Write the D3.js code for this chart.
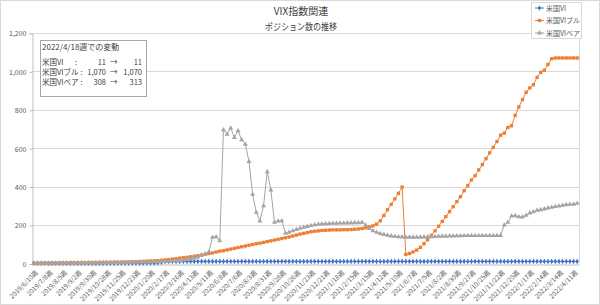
<!DOCTYPE html>
<html>
<head>
<meta charset="utf-8">
<script src="https://cdn.jsdelivr.net/npm/d3@7"></script>
<style>
  body { margin: 0; background: #fff; }
  svg text { font-family: "Noto Sans CJK JP", "Noto Sans", sans-serif; }
</style>
</head>
<body>
<div id="chart"></div>
<script>
// VIX指数関連 - ポジション数の推移

// tick labels on the category axis (every 4th week)
const tickLabels = [
  "2019/6/10週", "2019/7/8週", "2019/8/5週", "2019/9/2週", "2019/9/30週", "2019/10/28週",
  "2019/11/25週", "2019/12/23週", "2020/1/20週", "2020/2/17週", "2020/3/16週", "2020/4/13週",
  "2020/5/11週", "2020/6/8週", "2020/7/6週", "2020/8/3週", "2020/8/31週", "2020/9/28週",
  "2020/10/26週", "2020/11/23週", "2020/12/21週", "2021/1/18週", "2021/2/15週", "2021/3/15週",
  "2021/4/12週", "2021/5/10週", "2021/6/7週", "2021/7/5週", "2021/8/2週", "2021/8/30週",
  "2021/9/27週", "2021/10/25週", "2021/11/22週", "2021/12/20週", "2022/1/17週", "2022/2/14週",
  "2022/3/14週", "2022/4/11週"
];

// 米国VI
const vi = [
  1, 1, 1, 1, 1, 1, 1, 1, 1, 1,
  1, 1, 1, 1, 1, 1, 1, 1, 1, 1,
  1, 1, 1, 2, 2, 2, 2, 2, 2, 2,
  3, 3, 3, 3, 4, 6, 11, 11, 11, 11,
  11, 11, 11, 11, 11, 11, 11, 11, 11, 11,
  11, 11, 11, 11, 11, 11, 11, 11, 11, 11,
  11, 11, 11, 11, 11, 11, 11, 11, 11, 11,
  11, 11, 11, 11, 11, 11, 11, 11, 11, 11,
  11, 11, 11, 11, 11, 11, 11, 11, 11, 11,
  11, 11, 11, 11, 11, 11, 11, 11, 11, 11,
  11, 11, 11, 11, 11, 11, 11, 11, 11, 11,
  11, 11, 11, 11, 11, 11, 11, 11, 11, 11,
  11, 11, 11, 11, 11, 11, 11, 11, 11, 11,
  11, 11, 11, 11, 11, 11, 11, 11, 11, 11,
  11, 11, 11, 11, 11, 11, 11, 11, 11, 11
];

// 米国VIブル
const viBull = [
  2, 2, 2, 2, 3, 3, 3, 3, 3, 3,
  4, 4, 4, 4, 4, 5, 5, 5, 5, 6,
  6, 6, 7, 7, 7, 8, 8, 9, 9, 10,
  11, 12, 13, 14, 15, 17, 19, 21, 23, 25,
  28, 30, 32, 35, 38, 41, 44, 48, 52, 55,
  60, 64, 67, 71, 75, 79, 83, 87, 91, 95,
  99, 103, 106, 110, 114, 118, 122, 126, 130, 134,
  138, 143, 148, 153, 157, 161, 165, 168, 170, 172,
  173, 174, 175, 175, 175, 176, 176, 177, 178, 180,
  182, 186, 190, 196, 205, 222, 250, 280, 308, 336,
  365, 398, 47, 52, 60, 70, 84, 103, 124, 147,
  170, 194, 219, 244, 270, 296, 322, 348, 379, 405,
  435, 457, 487, 515, 546, 576, 605, 635, 668, 679,
  708, 717, 771, 815, 853, 891, 914, 931, 969, 995,
  1006, 1036, 1066, 1070, 1070, 1070, 1070, 1070, 1070, 1070
];

// 米国VIベア
const viBear = [
  1, 1, 1, 1, 1, 2, 2, 2, 2, 2,
  2, 3, 3, 3, 3, 3, 3, 4, 4, 4,
  4, 5, 5, 5, 5, 6, 6, 6, 7, 7,
  7, 8, 8, 9, 9, 10, 11, 12, 13, 14,
  16, 18, 21, 24, 28, 33, 43, 50, 60, 136,
  139, 118, 696, 673, 705, 656, 691, 644, 621, 531,
  360, 266, 221, 301, 478, 383, 214, 221, 222, 157,
  163, 170, 177, 183, 188, 193, 197, 201, 204, 206,
  207, 208, 209, 209, 210, 210, 211, 211, 212, 212,
  214, 200, 182, 170, 162, 156, 151, 147, 143, 141,
  139, 138, 137, 137, 137, 137, 137, 138, 139, 139,
  140, 141, 142, 142, 143, 143, 144, 144, 145, 145,
  145, 145, 145, 145, 145, 145, 145, 145, 146, 200,
  214, 247, 249, 243, 242, 251, 263, 269, 277, 280,
  284, 289, 292, 296, 299, 303, 306, 308, 308, 313
];

const yTicks = [0, 200, 400, 600, 800, 1000, 1200];

// weekly categories starting 2019/6/10
const fmtWeek = d3.timeFormat("%Y/%-m/%-d週");
const weeks = viBull.map((v, i) => fmtWeek(d3.timeDay.offset(new Date(2019, 5, 10), 7 * i)));

const series = [
  {name: "米国VI", values: vi, color: "#4472C4", symbol: d3.symbolDiamond, size: 9},
  {name: "米国VIブル", values: viBull, color: "#ED7D31", symbol: d3.symbolSquare, size: 11},
  {name: "米国VIベア", values: viBear, color: "#A5A5A5", symbol: d3.symbolTriangle, size: 11}
];

const W = 600, H = 305;
const plot = {left: 32, right: 579, top: 33, bottom: 263.5};

const svg = d3.select("#chart")
  .append("svg")
    .attr("width", W)
    .attr("height", H);

// chart area border
svg.append("rect")
  .attr("x", 0.5).attr("y", 0.5)
  .attr("width", W - 1).attr("height", H - 1)
  .attr("fill", "#fff")
  .attr("stroke", "#d9d9d9");

// scales
let x = d3.scaleBand()
  .domain(weeks)
  .range([plot.left, plot.right]);
const cx = d => x(d) + x.bandwidth() / 2;

let y = d3.scaleLinear()
  .domain([0, 1200])
  .range([plot.bottom, plot.top]);

// gridlines
svg.append("g")
  .selectAll("line")
  .data(yTicks.filter(d => d > 0))
  .join("line")
    .attr("x1", plot.left).attr("x2", plot.right)
    .attr("y1", d => Math.round(y(d)) + 0.5)
    .attr("y2", d => Math.round(y(d)) + 0.5)
    .attr("stroke", "#d9d9d9");

// plot area right border
svg.append("line")
  .attr("x1", plot.right + 0.5).attr("x2", plot.right + 0.5)
  .attr("y1", plot.top).attr("y2", plot.bottom)
  .attr("stroke", "#d9d9d9");

// Y axis
let yAxis = svg.append("g")
  .attr("transform", `translate(${plot.left + 0.5}, 0.5)`)
  .call(d3.axisLeft(y).tickValues(yTicks).tickSize(3).tickPadding(3).tickFormat(d3.format(",")));
yAxis.select(".domain").attr("stroke", "#bfbfbf");
yAxis.selectAll(".tick line").attr("stroke", "#bfbfbf");
yAxis.selectAll(".tick text")
  .attr("fill", "#595959")
  .style("font-size", "7px");

// X axis
let xAxis = svg.append("g")
  .attr("transform", `translate(0, ${Math.round(plot.bottom) + 0.5})`)
  .call(d3.axisBottom(x).tickValues(tickLabels).tickSize(0));
xAxis.select(".domain").attr("stroke", "#bfbfbf");
xAxis.selectAll(".tick text")
  .attr("fill", "#595959")
  .style("font-size", "6.5px")
  .attr("text-anchor", "end")
  .attr("y", 0)
  .attr("dy", "0.35em")
  .attr("transform", "translate(3, 7) rotate(-45)");

// lines and markers
series.forEach(s => {
  const line = d3.line()
    .x((d, i) => cx(weeks[i]))
    .y(d => y(d));
  svg.append("path")
    .datum(s.values)
    .attr("fill", "none")
    .attr("stroke", s.color)
    .attr("stroke-width", 1)
    .attr("d", line);
  svg.append("g")
    .selectAll("path")
    .data(s.values)
    .join("path")
      .attr("transform", (d, i) => `translate(${cx(weeks[i])}, ${y(d)})`)
      .attr("d", d3.symbol().type(s.symbol).size(s.size))
      .attr("fill", s.color);
});

// title
svg.append("text")
  .attr("x", 301).attr("y", 15)
  .attr("text-anchor", "middle")
  .attr("fill", "#404040")
  .style("font-size", "10px")
  .text("VIX指数関連");
svg.append("text")
  .attr("x", 301).attr("y", 30)
  .attr("text-anchor", "middle")
  .attr("fill", "#404040")
  .style("font-size", "9.5px")
  .attr("textLength", 72)
  .attr("lengthAdjust", "spacingAndGlyphs")
  .text("ポジション数の推移");

// legend
let legend = svg.append("g");
legend.append("rect")
  .attr("x", 531.5).attr("y", 2.5)
  .attr("width", 50).attr("height", 36)
  .attr("fill", "#fff")
  .attr("stroke", "#d9d9d9");
series.forEach((s, i) => {
  const ly = 8 + i * 12.5;
  legend.append("line")
    .attr("x1", 535).attr("x2", 544)
    .attr("y1", ly).attr("y2", ly)
    .attr("stroke", s.color);
  legend.append("path")
    .attr("transform", `translate(539.5, ${ly})`)
    .attr("d", d3.symbol().type(s.symbol).size(s.size))
    .attr("fill", s.color);
  legend.append("text")
    .attr("x", 546).attr("y", ly + 2.5)
    .attr("fill", "#595959")
    .style("font-size", "7px")
    .text(s.name);
});

// info box
const boxRows = [
  {label: "米国VI", colon: 75, from: "11", to: "11"},
  {label: "米国VIブル", colon: 72, from: "1,070", to: "1,070"},
  {label: "米国VIベア", colon: 78, from: "308", to: "313"}
];
let info = svg.append("g");
info.append("rect")
  .attr("x", 40.5).attr("y", 40.5)
  .attr("width", 106).attr("height", 56)
  .attr("fill", "#fff")
  .attr("stroke", "#a6a6a6");
info.append("text")
  .attr("x", 42).attr("y", 50)
  .attr("fill", "#404040")
  .style("font-size", "8px")
  .text("2022/4/18週での変動");
boxRows.forEach((r, i) => {
  const ty = 65 + i * 10;
  const t = info.append("g").attr("fill", "#404040").style("font-size", "7.5px");
  const lab = t.append("text").attr("x", 42).attr("y", ty).text(r.label);
  const labEnd = 42 + lab.node().getComputedTextLength();
  t.append("text").attr("x", Math.max(r.colon, labEnd + 2)).attr("y", ty).text(":");
  t.append("text").attr("x", 106).attr("y", ty).attr("text-anchor", "end").text(r.from);
  t.append("text").attr("x", 110).attr("y", ty).text("→");
  t.append("text").attr("x", 142).attr("y", ty).attr("text-anchor", "end").text(r.to);
});
</script>
</body>
</html>
